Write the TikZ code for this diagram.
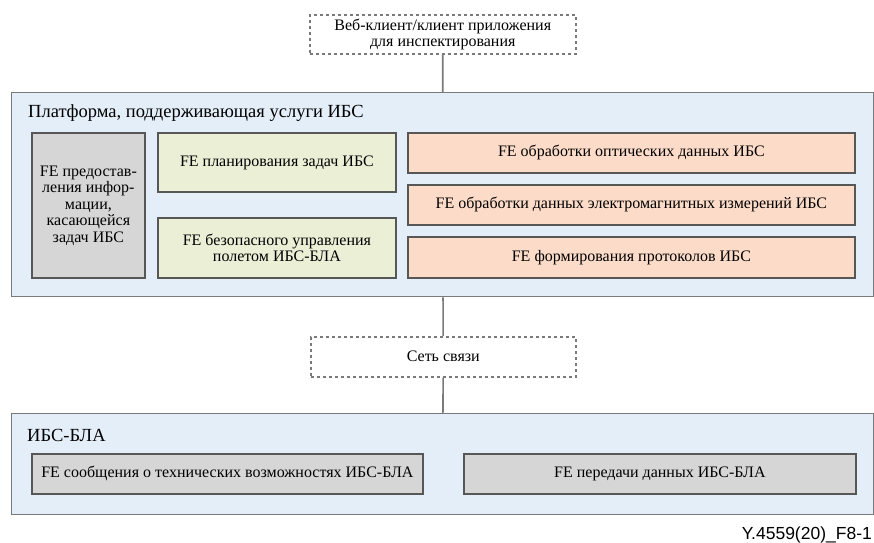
\documentclass[tikz,border=0pt]{standalone}
\usepackage{fontspec}
\setmainfont{Liberation Serif}
\newfontfamily\figlabelfont{Liberation Sans}
\usetikzlibrary{positioning}
\definecolor{ibs-base-grey-dark}{HTML}{575757}
\definecolor{ibs-base-grey-line}{HTML}{7A7A7A}
\definecolor{ibs-palette-sky}{HTML}{E4EEF8}
\definecolor{ibs-palette-grey}{HTML}{D6D6D6}
\definecolor{ibs-palette-lime}{HTML}{EAEFD5}
\definecolor{ibs-palette-peach}{HTML}{FCDCC8}

\begin{document}
\begin{tikzpicture}[x=1pt,y=-1pt,font=\fontsize{16}{16.5}\selectfont]
  \tikzstyle{layer}=[draw=ibs-base-grey-line, line width=1.3pt, fill=ibs-palette-sky, anchor=north west, inner sep=0pt]
  \tikzstyle{fe}=[draw=ibs-base-grey-dark, line width=1.8pt, anchor=north west, align=center, inner sep=0pt]
  \tikzstyle{ext}=[draw=ibs-base-grey-line, dashed, line width=1.5pt, fill=white, anchor=north west, align=center, inner sep=0pt]
  \tikzstyle{title}=[anchor=base west, inner sep=0pt, font=\fontsize{18.5}{20}\selectfont]

  \useasboundingbox (0,0) rectangle (874,542);

  %% Layers
  \node[layer, minimum width=862, minimum height=204] (plat) at (11,92)  {};
  \node[layer, minimum width=862, minimum height=101] (uav)  at (11,413) {};

  %% Links
  \node[ext, minimum width=266, minimum height=39] (client) at (309,14)
    {Веб-клиент/клиент приложения\\для инспектирования};
  \node[ext, minimum width=265, minimum height=40] (net) at (310,336) {Сеть связи};

  \path[ibs-base-grey-line, line width=1.6pt]
    (client) edge (plat)
    (plat)   edge (net)
    (net)    edge (uav);

  %% Platform
  \node[title] (platname) at (28,117) {Платформа, поддерживающая услуги ИБС};
  \node[fe, fill=ibs-palette-grey, minimum width=113, minimum height=145] (info) at (31,132)
    {FE предостав-\\ления инфор-\\мации,\\касающейся\\задач ИБС};
  \node[fe, fill=ibs-palette-lime, minimum width=238, minimum height=59] (plan) at (157,132)
    {FE планирования задач ИБС};
  \node[fe, fill=ibs-palette-lime, minimum width=238, minimum height=60] (flight) at (157,217)
    {FE безопасного управления\\полетом ИБС-БЛА};
  \node[fe, fill=ibs-palette-peach, minimum width=447, minimum height=40] (optic) at (407,132)
    {FE обработки оптических данных ИБС};
  \node[fe, fill=ibs-palette-peach, minimum width=447, minimum height=40] (emag) at (407,184)
    {FE обработки данных электромагнитных измерений ИБС};
  \node[fe, fill=ibs-palette-peach, minimum width=447, minimum height=41] (report) at (407,236)
    {FE формирования протоколов ИБС};

  %% UAV
  \node[title] (uavname) at (27,441) {ИБС-БЛА};
  \node[fe, fill=ibs-palette-grey, minimum width=391, minimum height=40] (caps) at (31,453)
    {FE сообщения о технических возможностях ИБС-БЛА};
  \node[fe, fill=ibs-palette-grey, minimum width=392, minimum height=40] (xfer) at (463,453)
    {FE передачи данных ИБС-БЛА};

  \node[anchor=base east, inner sep=0pt, font=\figlabelfont\fontsize{17.5}{18}\selectfont] (figno) at (872,539)
    {Y.4559(20)\_F8-1};
\end{tikzpicture}
\end{document}
